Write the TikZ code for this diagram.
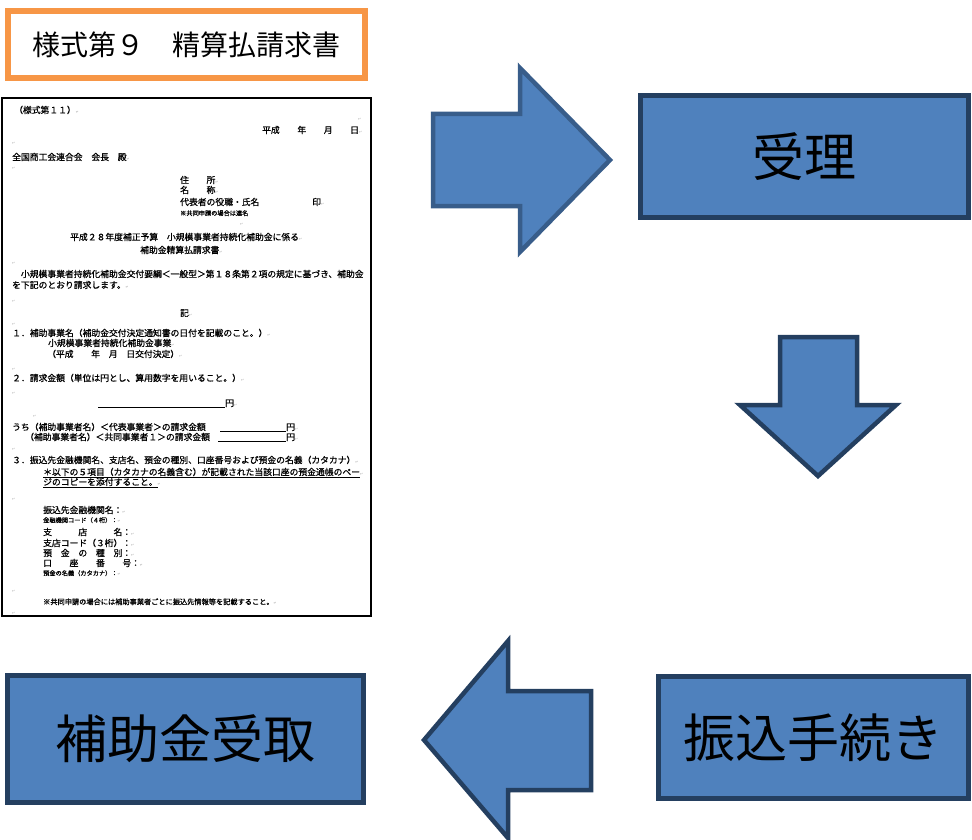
\documentclass[tikz,border=0pt]{standalone}
\usepackage{fontspec}
\newfontfamily\jp{Noto Sans CJK JP}
\newfontfamily\jpd[FakeBold=0.8]{Noto Sans CJK JP}
\newfontfamily\djv{DejaVu Sans}
\definecolor{blfill}{HTML}{4F81BD}
\definecolor{blline}{HTML}{385D8A}
\definecolor{dkline}{HTML}{243F60}
\definecolor{orng}{HTML}{F79646}
\newcommand\rmk{\textcolor{black!40}{\djv\fontsize{3.5}{4}\selectfont ↵}}
\tikzset{
  doc/.style={font=\jpd\fontsize{8.8}{9}\selectfont, anchor=base west, inner sep=0pt},
  docs/.style={doc, font=\jpd\fontsize{6.2}{7}\selectfont},
  retmk/.style={anchor=base west, inner sep=0pt},
  bluebox/.style={draw=dkline, fill=blfill, line width=5pt, inner sep=0pt,
     font=\jp\fontsize{52}{56}\selectfont},
  blockarrow/.style={fill=blfill, line width=4.5pt, line join=miter},
}
\begin{document}
\begin{tikzpicture}[x=1pt,y=-1pt]
\useasboundingbox (0,0) rectangle (972,840);
% title
\node[draw=orng, line width=6pt, minimum width=357pt, minimum height=67pt, inner sep=0pt,
      font=\jp\fontsize{28}{30}\selectfont] (title) at (186.5,44.5) {様式第９　精算払請求書};
% document
\node[draw=black, line width=2pt, minimum width=369pt, minimum height=518pt, inner sep=0pt] (docu) at (186.5,357) {};
\node[doc] (d1) at (14,113.3) {（様式第１１）\rmk};
\node[retmk] (m1) at (358,121) {\rmk};
\node[doc] (d2) at (262,133.3) {平成　　年　　月　　日\rmk};
\node[retmk] (m2) at (12,145) {\rmk};
\node[doc] (d3) at (12,160.3) {全国商工会連合会　会長　殿\rmk};
\node[retmk] (m3) at (12,169) {\rmk};
\node[doc] (d4) at (180,183.3) {住　　所\rmk};
\node[doc] (d5) at (180,193.3) {名　　称\rmk};
\node[doc] (d6) at (180,205.3) {代表者の役職・氏名　　　　　　印\rmk};
\node[docs] (d7) at (180,215.5) {※共同申請の場合は連名};
\node[retmk] (m4) at (240,225) {\rmk};
\node[doc] (d8) at (70,240.3) {平成２８年度補正予算　小規模事業者持続化補助金に係る\rmk};
\node[doc] (d9) at (140,253.3) {補助金精算払請求書\rmk};
\node[retmk] (m5) at (12,264) {\rmk};
\node[doc] (d10) at (12,277.3) {　小規模事業者持続化補助金交付要綱＜一般型＞第１８条第２項の規定に基づき、補助金};
\node[doc] (d11) at (12,288.3) {を下記のとおり請求します。\rmk};
\node[retmk] (m6) at (12,302) {\rmk};
\node[doc] (d12) at (180,316.3) {記\rmk};
\node[retmk] (m7) at (12,325) {\rmk};
\node[doc] (d13) at (12,336.3) {１．補助事業名（補助金交付決定通知書の日付を記載のこと。）\rmk};
\node[doc] (d14) at (48,346.3) {小規模事業者持続化補助金事業\rmk};
\node[doc] (d15) at (47,357.3) {（平成　　年　月　日交付決定）\rmk};
\node[retmk] (m8) at (12,370) {\rmk};
\node[doc] (d16) at (12,381.3) {２．請求金額（単位は円とし、算用数字を用いること。）\rmk};
\node[retmk] (m9) at (12,394) {\rmk};
\coordinate (u1a) at (98,407);
\node[doc] (d17) at (225,406.3) {円\rmk};
\draw[line width=0.8pt] (u1a) -- (u1a -| d17.west);
\node[retmk] (m10) at (33,417) {\rmk};
\node[doc] (d18) at (12,430.3) {うち（補助事業者名）＜代表事業者＞の請求金額};
\node[doc] (d19) at (286,430.3) {円\rmk};
\coordinate (u2a) at (220,431);
\draw[line width=0.8pt] (u2a) -- (u2a -| d19.west);
\node[doc] (d20) at (25,440.3) {（補助事業者名）＜共同事業者１＞の請求金額};
\node[doc] (d21) at (286,440.3) {円\rmk};
\coordinate (u3a) at (218,441);
\draw[line width=0.8pt] (u3a) -- (u3a -| d21.west);
\node[retmk] (m11) at (12,450) {\rmk};
\node[doc] (d22) at (12,463.3) {３．振込先金融機関名、支店名、預金の種別、口座番号および預金の名義（カタカナ）\rmk};
\node[doc] (d23) at (43,475.3) {\underline{＊以下の５項目（カタカナの名義含む）が記載された当該口座の預金通帳のペー}\rmk};
\node[doc] (d24) at (43,485.3) {\underline{ジのコピーを添付すること。}\rmk};
\node[retmk] (m12) at (12,500) {\rmk};
\node[doc] (d25) at (43,513.3) {振込先金融機関名：\rmk};
\node[docs] (d26) at (43,522.5) {金融機関コード（４桁）：\rmk};
\node[doc] (d27) at (43,535.3) {支　　　店　　　名：\rmk};
\node[doc] (d28) at (43,546.3) {支店コード（３桁）：\rmk};
\node[doc] (d29) at (43,556.3) {預　金　の　種　別：\rmk};
\node[doc] (d30) at (43,566.3) {口　　座　　番　　号：\rmk};
\node[docs] (d31) at (43,575.5) {預金の名義（カタカナ）：\rmk};
\node[retmk] (m13) at (12,592) {\rmk};
\node[docs, font=\jpd\fontsize{7.2}{8}\selectfont] (d32) at (43,604.5) {※共同申請の場合には補助事業者ごとに振込先情報等を記載すること。\rmk};
\node[retmk] (m14) at (12,614) {\rmk};
% blue boxes
\node[bluebox, minimum width=327.5pt, minimum height=122pt] (juri) at (804.25,156.5) {受理};
\node[bluebox, minimum width=309.5pt, minimum height=122pt] (furi) at (813.25,737.5) {振込手続き};
\node[bluebox, minimum width=356pt, minimum height=127pt] (hojo) at (185.5,739) {補助金受取};
% block arrows
\draw[blockarrow, draw=blline] (433,114) -- (520,114) -- (520,68) -- (610,160) -- (520,252) -- (520,206) -- (433,206) -- cycle;
\draw[blockarrow, draw=dkline] (780,337) -- (857,337) -- (857,405) -- (896,405) -- (818,476) -- (740,405) -- (780,405) -- cycle;
\draw[blockarrow, draw=dkline] (591,691) -- (508,691) -- (508,641) -- (424,740) -- (508,838) -- (508,790) -- (591,790) -- cycle;
\end{tikzpicture}
\end{document}
